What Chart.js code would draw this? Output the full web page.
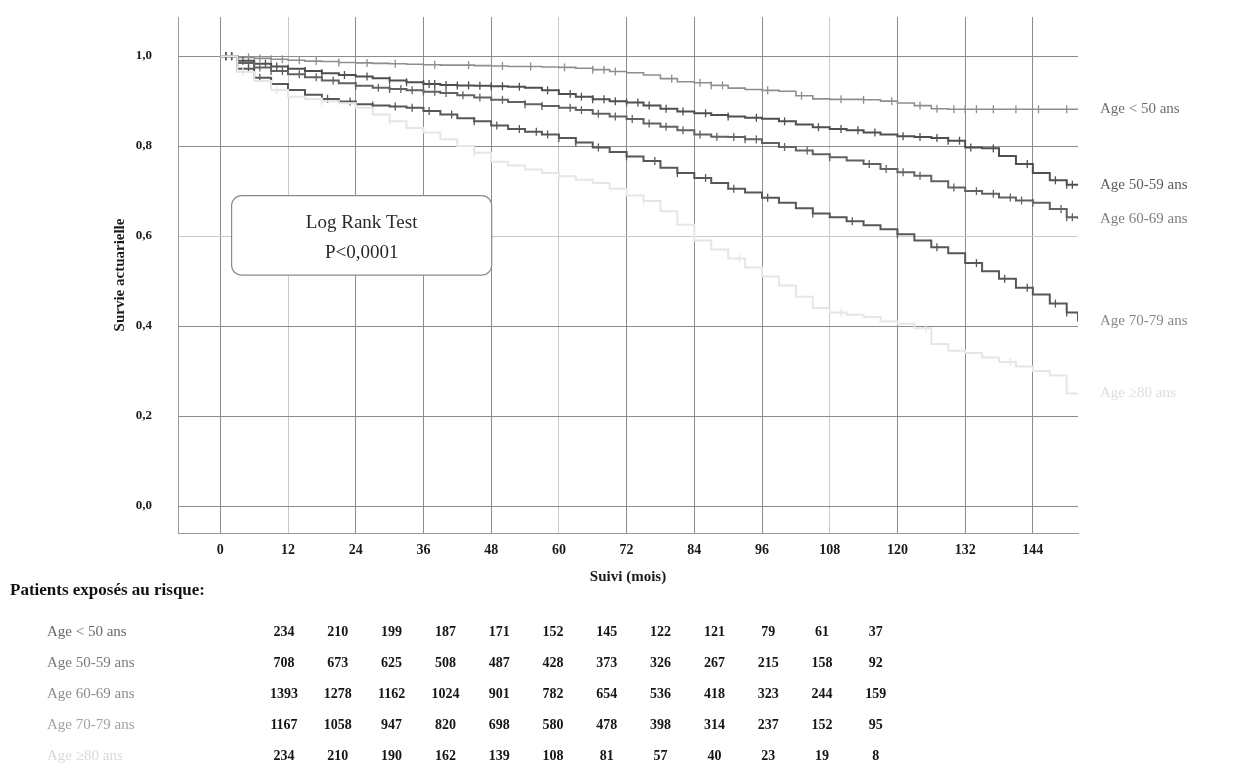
<!DOCTYPE html>
<html>
<head>
<meta charset="utf-8">
<title>Survie actuarielle selon l'âge</title>
<script src="https://cdn.jsdelivr.net/npm/chart.js@4.4.1/dist/chart.umd.min.js"></script>
<style>
  body { margin: 0; background: #fff; }
  canvas { display: block; }
</style>
</head>
<body>
<canvas id="myChart" width="1244" height="772"></canvas>
<script>
var SERIF = "'Liberation Serif', 'DejaVu Serif', serif";

// Age groups
var groupLabels = ["Age < 50 ans", "Age 50-59 ans", "Age 60-69 ans", "Age 70-79 ans", "Age \u226580 ans"];

// Follow-up times (months) for the survival estimates
var months = [0, 3, 6, 9, 12, 15, 18, 21, 24, 27, 30, 33, 36,
  39, 42, 45, 48, 51, 54, 57, 60, 63, 66, 69, 72, 75,
  78, 81, 84, 87, 90, 93, 96, 99, 102, 105, 108, 111, 114,
  117, 120, 123, 126, 129, 132, 135, 138, 141, 144, 147, 150, 152];

var survieMoins50 = [1.000, 0.997, 0.995, 0.993, 0.991, 0.989, 0.988, 0.986, 0.985, 0.984, 0.983, 0.982, 0.981,
  0.980, 0.980, 0.979, 0.978, 0.977, 0.977, 0.976, 0.975, 0.973, 0.970, 0.966, 0.963, 0.958,
  0.950, 0.943, 0.941, 0.935, 0.929, 0.926, 0.924, 0.922, 0.912, 0.905, 0.904, 0.904, 0.903,
  0.900, 0.896, 0.890, 0.883, 0.882, 0.882, 0.882, 0.882, 0.882, 0.882, 0.882, 0.882, 0.882];
var survie5059 = [1.000, 0.990, 0.983, 0.977, 0.972, 0.967, 0.962, 0.958, 0.955, 0.951, 0.946, 0.942, 0.938,
  0.936, 0.935, 0.934, 0.933, 0.932, 0.930, 0.924, 0.916, 0.910, 0.904, 0.900, 0.897, 0.890,
  0.883, 0.877, 0.873, 0.869, 0.866, 0.863, 0.861, 0.855, 0.848, 0.842, 0.838, 0.835, 0.830,
  0.826, 0.822, 0.820, 0.818, 0.812, 0.797, 0.795, 0.778, 0.760, 0.740, 0.724, 0.714, 0.714];
var survie6069 = [1.000, 0.985, 0.975, 0.967, 0.960, 0.953, 0.946, 0.940, 0.934, 0.930, 0.927, 0.924, 0.921,
  0.918, 0.913, 0.908, 0.903, 0.898, 0.893, 0.889, 0.885, 0.880, 0.872, 0.866, 0.860, 0.850,
  0.843, 0.835, 0.826, 0.821, 0.820, 0.815, 0.807, 0.798, 0.790, 0.782, 0.775, 0.768, 0.760,
  0.749, 0.742, 0.734, 0.722, 0.708, 0.700, 0.694, 0.686, 0.679, 0.674, 0.660, 0.642, 0.638];
var survie7079 = [1.000, 0.972, 0.952, 0.938, 0.925, 0.914, 0.905, 0.899, 0.893, 0.890, 0.888, 0.885, 0.878,
  0.870, 0.862, 0.855, 0.846, 0.838, 0.832, 0.826, 0.818, 0.808, 0.797, 0.787, 0.777, 0.767,
  0.752, 0.740, 0.729, 0.718, 0.705, 0.697, 0.685, 0.674, 0.662, 0.650, 0.642, 0.633, 0.624,
  0.615, 0.604, 0.590, 0.575, 0.562, 0.540, 0.522, 0.505, 0.485, 0.470, 0.450, 0.430, 0.410];
var survie80 = [1.000, 0.965, 0.945, 0.925, 0.910, 0.905, 0.900, 0.895, 0.885, 0.870, 0.855, 0.840, 0.830,
  0.815, 0.800, 0.785, 0.765, 0.757, 0.748, 0.740, 0.733, 0.725, 0.718, 0.705, 0.690, 0.678,
  0.655, 0.625, 0.590, 0.570, 0.550, 0.530, 0.510, 0.490, 0.465, 0.440, 0.430, 0.425, 0.420,
  0.410, 0.405, 0.395, 0.360, 0.345, 0.340, 0.330, 0.320, 0.310, 0.300, 0.290, 0.250, 0.250];

// Censored observations (months)
var censureMoins50 = [2, 5, 7, 9, 11, 14, 17, 21, 26, 31, 38, 44, 50, 55, 61, 66, 68, 70, 80, 85, 87, 89,
  97, 103, 110, 114, 119, 124, 127, 130, 132, 134, 137, 141, 145, 150];
var censure5059 = [1, 2, 4, 6, 8, 10, 12, 15, 18, 22, 26, 30, 33, 36, 37, 38, 40, 42, 44, 46, 48, 50, 53,
  58, 62, 64, 66, 68, 70, 72, 74, 76, 79, 82, 86, 90, 95, 100, 106, 110, 113, 116, 121, 124, 127,
  129, 131, 133, 137, 143, 148, 150, 151];
var censure6069 = [1, 2, 3, 5, 7, 9, 11, 14, 17, 20, 24, 28, 30, 32, 34, 36, 38, 40, 43, 46, 50, 54, 57,
  62, 64, 67, 70, 73, 76, 79, 82, 85, 88, 91, 93, 95, 100, 104, 108, 115, 118, 121, 124, 130, 134,
  137, 140, 142, 144, 149, 150, 151];
var censure7079 = [1, 2, 3, 5, 7, 9, 12, 15, 19, 23, 27, 31, 34, 37, 41, 45, 49, 53, 56, 58, 60, 63, 67,
  72, 77, 81, 86, 91, 97, 105, 112, 120, 127, 134, 139, 143, 148, 150];
var censure80 = [4, 10, 18, 30, 45, 60, 75, 92, 110, 125, 140];

// Axis ticks
var xTicks = [0, 12, 24, 36, 48, 60, 72, 84, 96, 108, 120, 132, 144];
var yTicks = [0, 0.2, 0.4, 0.6, 0.8, 1.0];

// Patients at risk
var risqueMoins50 = [234, 210, 199, 187, 171, 152, 145, 122, 121, 79, 61, 37];
var risque5059 = [708, 673, 625, 508, 487, 428, 373, 326, 267, 215, 158, 92];
var risque6069 = [1393, 1278, 1162, 1024, 901, 782, 654, 536, 418, 323, 244, 159];
var risque7079 = [1167, 1058, 947, 820, 698, 580, 478, 398, 314, 237, 152, 95];
var risque80 = [234, 210, 190, 162, 139, 108, 81, 57, 40, 23, 19, 8];

var survies = [survieMoins50, survie5059, survie6069, survie7079, survie80];
var censures = [censureMoins50, censure5059, censure6069, censure7079, censure80];
var risques = [risqueMoins50, risque5059, risque6069, risque7079, risque80];

var lineColors = ["#8e8e8e", "#4f4f4f", "#626262", "#575757", "#e6e6e6"];
var labelColors = ["#6e6e6e", "#5c5c5c", "#808080", "#888888", "#dddddd"];
var rowColors = ["#6a6a6a", "#7a7a7a", "#8c8c8c", "#a3a3a3", "#d8d8d8"];

// some reference lines are printed lighter
var lightX = [12, 60, 108];
var lightY = [0.6];

// survival value of the step curve at time t
function survieA(values, t) {
  var s = values[0];
  for (var i = 0; i < months.length; i++) {
    if (months[i] <= t) s = values[i];
  }
  return s;
}

var datasets = [];
survies.forEach(function (values, i) {
  datasets.push({
    label: groupLabels[i],
    data: months.map(function (m, j) { return { x: m, y: values[j] }; }),
    stepped: true,
    borderColor: lineColors[i],
    borderWidth: i === 0 ? 1.6 : 2,
    pointRadius: 0,
    order: 5 - i
  });
});
censures.forEach(function (times, i) {
  datasets.push({
    label: groupLabels[i] + " (censure)",
    data: times.map(function (t) { return { x: t, y: survieA(survies[i], t) }; }),
    showLine: false,
    pointStyle: "line",
    rotation: 90,
    pointRadius: 4,
    pointBorderWidth: 1.3,
    borderColor: lineColors[i],
    order: 5 - i
  });
});

// labels at the curve ends, log-rank box and patients-at-risk table
var annotations = {
  id: "annotations",
  afterDraw: function (chart) {
    var ctx = chart.ctx;
    var x = chart.scales.x;
    var y = chart.scales.y;
    var area = chart.chartArea;
    ctx.save();

    ctx.font = "15px " + SERIF;
    ctx.textBaseline = "middle";
    ctx.textAlign = "left";
    survies.forEach(function (values, i) {
      ctx.fillStyle = labelColors[i];
      ctx.fillText(groupLabels[i], area.right + 22, y.getPixelForValue(values[values.length - 1]));
    });

    // log-rank box
    var bx0 = x.getPixelForValue(2), bx1 = x.getPixelForValue(48.1);
    var by0 = y.getPixelForValue(0.69), by1 = y.getPixelForValue(0.513);
    ctx.beginPath();
    ctx.roundRect(bx0, by0, bx1 - bx0, by1 - by0, 10);
    ctx.fillStyle = "#fff";
    ctx.fill();
    ctx.strokeStyle = "#8a8a8a";
    ctx.lineWidth = 1.2;
    ctx.stroke();
    ctx.fillStyle = "#2a2a2a";
    ctx.textAlign = "center";
    ctx.font = "19px " + SERIF;
    ctx.fillText("Log Rank Test", (bx0 + bx1) / 2, by0 + 27);
    ctx.fillText("P<0,0001", (bx0 + bx1) / 2, by0 + 57);

    // patients at risk
    ctx.textAlign = "left";
    ctx.fillStyle = "#111";
    ctx.font = "bold 17px " + SERIF;
    ctx.fillText("Patients expos\u00e9s au risque:", 10, 591);
    risques.forEach(function (row, i) {
      var ry = 632 + i * 31;
      ctx.textAlign = "left";
      ctx.font = "15px " + SERIF;
      ctx.fillStyle = rowColors[i];
      ctx.fillText(groupLabels[i], 47, ry);
      ctx.textAlign = "center";
      ctx.font = "bold 14px " + SERIF;
      ctx.fillStyle = "#151515";
      row.forEach(function (n, j) {
        ctx.fillText(String(n), 284 + j * 53.8, ry);
      });
    });
    ctx.restore();
  }
};

var ctx = document.getElementById("myChart").getContext("2d");
var myChart = new Chart(ctx, {
  type: "line",
  data: { datasets: datasets },
  options: {
    responsive: false,
    animation: false,
    layout: { padding: { top: 17, right: 166, bottom: 0, left: 0 } },
    plugins: {
      legend: { display: false },
      tooltip: { enabled: false }
    },
    scales: {
      x: {
        type: "linear",
        min: -7.5,
        max: 152,
        afterFit: function (scale) { scale.height = 239; },
        afterBuildTicks: function (scale) {
          scale.ticks = xTicks.map(function (v) { return { value: v }; });
        },
        grid: {
          color: function (c) {
            return c.tick && lightX.indexOf(c.tick.value) >= 0 ? "#c8c8c8" : "#8c8c8c";
          },
          lineWidth: 1,
          drawTicks: false
        },
        border: { display: true, color: "#9a9a9a" },
        ticks: {
          padding: 9,
          color: "#1a1a1a",
          font: { family: SERIF, size: 14, weight: "bold" },
          callback: function (v) { return String(v); }
        },
        title: {
          display: true,
          text: "Suivi (mois)",
          color: "#1a1a1a",
          font: { family: SERIF, size: 15, weight: "bold" },
          padding: { top: 0, bottom: 186 }
        }
      },
      y: {
        type: "linear",
        min: -0.06,
        max: 1.087,
        afterFit: function (scale) { scale.width = 178; },
        afterBuildTicks: function (scale) {
          scale.ticks = yTicks.map(function (v) { return { value: v }; });
        },
        grid: {
          color: function (c) {
            return c.tick && lightY.indexOf(c.tick.value) >= 0 ? "#c8c8c8" : "#8c8c8c";
          },
          lineWidth: 1,
          drawTicks: true,
          tickLength: 26,
          tickColor: "rgba(0,0,0,0)"
        },
        border: { display: true, color: "#9a9a9a" },
        ticks: {
          padding: 0,
          color: "#1a1a1a",
          font: { family: SERIF, size: 13, weight: "bold" },
          callback: function (v) { return v.toFixed(1).replace(".", ","); }
        },
        title: {
          display: true,
          text: "Survie actuarielle",
          color: "#1a1a1a",
          font: { family: SERIF, size: 15, weight: "bold" },
          padding: { top: 111, bottom: 0 }
        }
      }
    }
  },
  plugins: [annotations]
});
</script>
</body>
</html>
